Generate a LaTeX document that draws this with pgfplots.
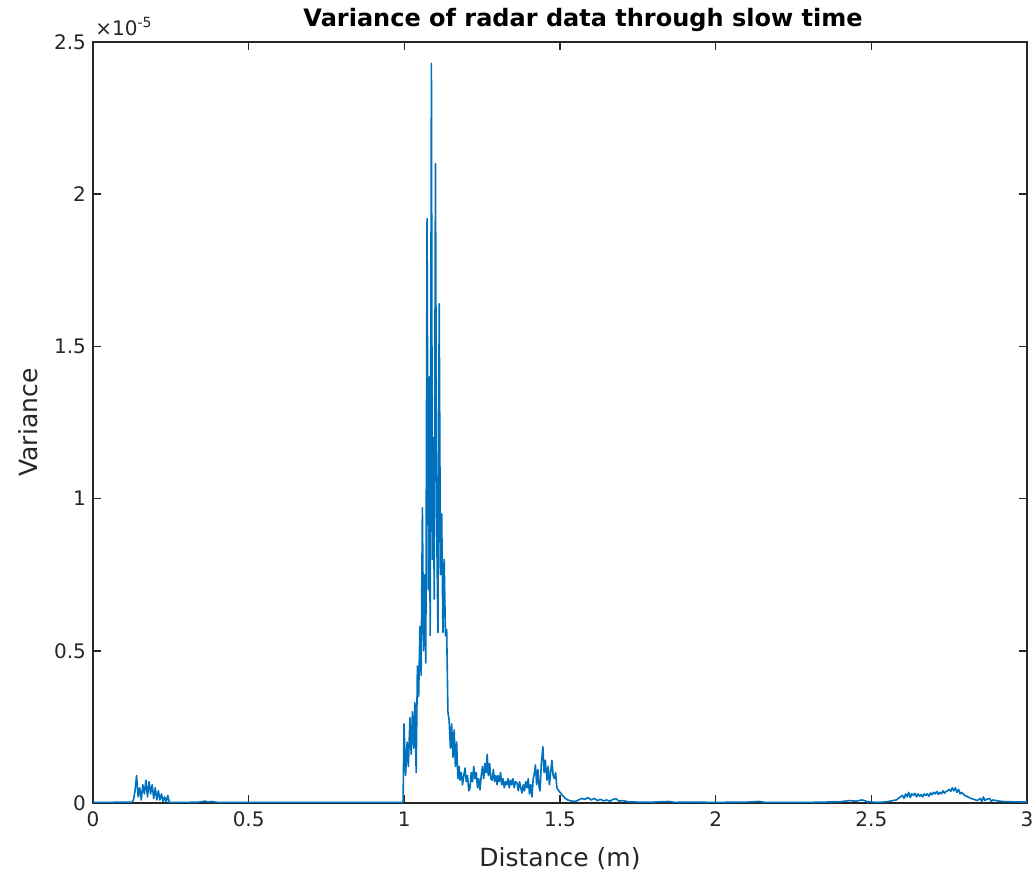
\documentclass[border=0pt]{standalone}
\usepackage{pgfplots}
\pgfplotsset{compat=1.18}
\usepackage{fontspec}
\setmainfont{DejaVu Sans}
\definecolor{mblue}{rgb}{0,0.447,0.741}
\definecolor{maxis}{rgb}{0.15,0.15,0.15}
\pgfplotstableread{
x y
0.000 0.002
0.050 0.002
0.100 0.003
0.125 0.003
0.130 0.010
0.135 0.040
0.140 0.090
0.145 0.020
0.150 0.050
0.155 0.010
0.160 0.060
0.165 0.030
0.170 0.075
0.175 0.020
0.180 0.070
0.185 0.030
0.190 0.060
0.195 0.015
0.200 0.050
0.205 0.010
0.210 0.040
0.215 0.010
0.220 0.030
0.225 0.005
0.230 0.020
0.235 0.003
0.240 0.025
0.245 0.003
0.250 0.002
0.300 0.002
0.340 0.003
0.360 0.006
0.370 0.003
0.380 0.005
0.400 0.002
0.500 0.002
0.600 0.002
0.700 0.002
0.800 0.002
0.900 0.002
0.990 0.002
0.996 0.003
0.999 0.260
1.004 0.090
1.009 0.200
1.013 0.120
1.018 0.280
1.022 0.160
1.026 0.300
1.030 0.180
1.034 0.330
1.038 0.100
1.042 0.450
1.046 0.350
1.050 0.580
1.054 0.420
1.058 0.970
1.062 0.500
1.066 0.750
1.069 0.460
1.073 1.920
1.077 0.700
1.080 1.400
1.083 0.550
1.087 2.430
1.090 0.800
1.093 1.200
1.096 0.670
1.100 2.100
1.104 0.900
1.108 0.560
1.112 1.640
1.116 0.750
1.120 0.950
1.124 0.560
1.128 0.800
1.132 0.550
1.136 0.570
1.140 0.300
1.144 0.270
1.148 0.180
1.152 0.260
1.156 0.150
1.160 0.240
1.164 0.120
1.168 0.200
1.172 0.080
1.176 0.120
1.179 0.075
1.183 0.100
1.187 0.060
1.191 0.090
1.195 0.115
1.199 0.070
1.203 0.090
1.207 0.040
1.211 0.050
1.215 0.100
1.219 0.070
1.223 0.120
1.227 0.080
1.231 0.100
1.235 0.050
1.239 0.080
1.243 0.043
1.247 0.090
1.251 0.120
1.255 0.080
1.259 0.130
1.263 0.100
1.266 0.160
1.270 0.090
1.274 0.130
1.278 0.080
1.282 0.075
1.286 0.110
1.290 0.070
1.294 0.090
1.298 0.060
1.301 0.090
1.305 0.070
1.309 0.100
1.313 0.060
1.317 0.080
1.321 0.050
1.325 0.070
1.329 0.060
1.333 0.080
1.337 0.050
1.341 0.075
1.345 0.060
1.349 0.080
1.353 0.050
1.357 0.070
1.362 0.066
1.366 0.040
1.370 0.070
1.374 0.050
1.378 0.033
1.382 0.060
1.386 0.040
1.390 0.070
1.394 0.050
1.398 0.080
1.402 0.030
1.406 0.060
1.410 0.020
1.414 0.080
1.418 0.100
1.421 0.125
1.425 0.060
1.429 0.110
1.433 0.050
1.436 0.040
1.440 0.130
1.445 0.185
1.449 0.100
1.453 0.140
1.458 0.075
1.462 0.120
1.466 0.060
1.470 0.100
1.474 0.140
1.478 0.090
1.482 0.080
1.486 0.100
1.490 0.050
1.494 0.043
1.500 0.035
1.508 0.025
1.516 0.016
1.525 0.010
1.535 0.007
1.548 0.005
1.560 0.010
1.570 0.015
1.580 0.012
1.590 0.018
1.600 0.010
1.610 0.015
1.620 0.008
1.630 0.012
1.640 0.007
1.650 0.010
1.660 0.006
1.670 0.012
1.680 0.014
1.690 0.006
1.700 0.008
1.720 0.004
1.750 0.003
1.800 0.003
1.850 0.005
1.870 0.002
1.900 0.003
2.000 0.002
2.100 0.003
2.140 0.005
2.160 0.002
2.300 0.002
2.400 0.004
2.430 0.008
2.450 0.006
2.470 0.010
2.490 0.004
2.520 0.002
2.550 0.004
2.580 0.010
2.600 0.025
2.605 0.015
2.610 0.030
2.615 0.020
2.620 0.035
2.625 0.018
2.630 0.030
2.635 0.025
2.640 0.032
2.645 0.020
2.650 0.030
2.655 0.022
2.660 0.028
2.665 0.020
2.670 0.030
2.675 0.025
2.680 0.030
2.685 0.022
2.690 0.033
2.695 0.027
2.700 0.035
2.705 0.030
2.710 0.038
2.715 0.028
2.720 0.035
2.725 0.030
2.730 0.040
2.735 0.032
2.740 0.038
2.745 0.040
2.750 0.045
2.755 0.038
2.760 0.050
2.765 0.040
2.770 0.050
2.775 0.035
2.780 0.045
2.785 0.030
2.790 0.035
2.800 0.025
2.810 0.020
2.820 0.015
2.830 0.012
2.840 0.008
2.850 0.015
2.855 0.005
2.860 0.020
2.865 0.008
2.870 0.012
2.880 0.015
2.885 0.005
2.890 0.010
2.900 0.008
2.920 0.005
2.950 0.004
3.000 0.003
}\datatable
\begin{document}
\begin{tikzpicture}
\path[use as bounding box] (-46.5pt,-35.5pt) rectangle (471pt,401.5pt);
\begin{axis}[
  at={(0,0)}, anchor=south west,
  scale only axis,
  width=467pt, height=380.5pt,
  xmin=0, xmax=3, ymin=0, ymax=2.5,
  xtick={0,0.5,1,1.5,2,2.5,3},
  ytick={0,0.5,1,1.5,2,2.5},
  scaled y ticks=false,
  /pgf/number format/assume math mode=true,
  tick align=inside,
  major tick length=4pt,
  axis line style={maxis, line width=0.75pt},
  every tick/.style={maxis, line width=0.75pt},
  tick label style={font=\fontsize{10pt}{12pt}\selectfont, text=maxis},
  xticklabel style={yshift=-1pt},
  xlabel={Distance (m)},
  ylabel={Variance},
  label style={font=\fontsize{12.5pt}{14pt}\selectfont, text=maxis},
  xlabel style={at={(axis description cs:0.5,-0.0828)}, anchor=base},
  ylabel style={at={(axis description cs:-0.0696,0.5)}, anchor=center},
  clip mode=individual,
]
\addplot[mblue, line width=0.8pt, line join=round] table[x=x,y=y] {\datatable};
\node[anchor=base, font=\bfseries\fontsize{12pt}{14pt}\selectfont, text=black, inner sep=0pt] at (rel axis cs:0.5,1) [yshift=8pt, xshift=11.5pt] {Variance of radar data through slow time};
\node[anchor=base west, font=\fontsize{10pt}{12pt}\selectfont, text=maxis, inner sep=0pt] at (rel axis cs:0,1) [yshift=3.5pt, xshift=1pt] {×10\textsuperscript{-5}};
\end{axis}
\end{tikzpicture}
\end{document}
